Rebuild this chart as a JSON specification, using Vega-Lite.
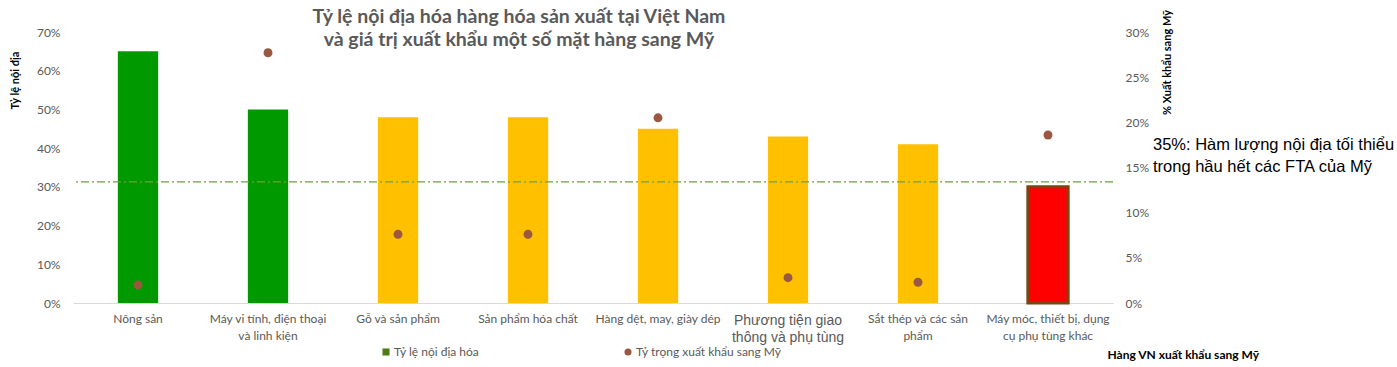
{
  "$schema": "https://vega.github.io/schema/vega-lite/v6.json",
  "width": 1040,
  "height": 271,
  "autosize": {"type": "none"},
  "padding": {"left": 73, "top": 32, "right": 284, "bottom": 64},
  "config": {
    "view": {"stroke": null},
    "font": "Lato",
    "axis": {"grid": false, "ticks": false, "labelOverlap": false, "labelColor": "#595959", "labelFont": "Lato", "labelFontSize": 12, "titleFont": "Lato", "titleFontSize": 11, "titleFontWeight": "bold", "titleColor": "#000000"}
  },
  "title": {
    "text": ["Tỷ lệ nội địa hóa hàng hóa sản xuất tại Việt Nam", "và giá trị xuất khẩu một số mặt hàng sang Mỹ"],
    "anchor": "middle",
    "dx": -74,
    "offset": -41,
    "fontSize": 19.5,
    "fontWeight": "bold",
    "color": "#595959",
    "font": "Lato",
    "lineHeight": 23
  },
  "datasets": {
    "hang": [
      {"mat_hang": "Nông sản", "noi_dia": 65, "xuat_khau_my": 2.0, "nhom": "cao"},
      {"mat_hang": "Máy vi tính, điện thoại|và linh kiện", "noi_dia": 50, "xuat_khau_my": 27.7, "nhom": "cao"},
      {"mat_hang": "Gỗ và sản phẩm", "noi_dia": 48, "xuat_khau_my": 7.6, "nhom": "trung bình"},
      {"mat_hang": "Sản phẩm hóa chất", "noi_dia": 48, "xuat_khau_my": 7.6, "nhom": "trung bình"},
      {"mat_hang": "Hàng dệt, may, giày dép", "noi_dia": 45, "xuat_khau_my": 20.5, "nhom": "trung bình"},
      {"mat_hang": "Phương tiện giao|thông và phụ tùng", "noi_dia": 43, "xuat_khau_my": 2.8, "nhom": "trung bình"},
      {"mat_hang": "Sắt thép và các sản|phẩm", "noi_dia": 41, "xuat_khau_my": 2.3, "nhom": "trung bình"},
      {"mat_hang": "Máy móc, thiết bị, dụng|cụ phụ tùng khác", "noi_dia": 30, "xuat_khau_my": 18.6, "nhom": "thấp"}
    ],
    "nguong": [
      {"muc": 31.3, "ghi_chu": ["35%: Hàm lượng nội địa tối thiểu", "trong hầu hết các FTA của Mỹ"], "vi_tri": 40.8}
    ]
  },
  "encoding": {
    "x": {
      "field": "mat_hang", "type": "nominal", "sort": null,
      "scale": {"paddingInner": 0.69, "paddingOuter": 0.345},
      "axis": {
        "labelAngle": 0,
        "labelExpr": "split(datum.label, '|')",
        "labelPadding": 10,
        "labelLineHeight": 17,
        "labelFontSize": {"condition": {"test": "indexof(datum.value, 'Phương tiện') == 0", "value": 14}, "value": 12},
        "labelFont": {"condition": {"test": "indexof(datum.value, 'Phương tiện') == 0", "value": "Liberation Sans"}, "value": "Lato"},
        "labelLimit": 200,
        "domainColor": "#D9D9D9",
        "title": "Hàng VN xuất khẩu sang Mỹ",
        "titleFontSize": 12,
        "titleX": 1034,
        "titleY": 51,
        "titleAlign": "left",
        "titleBaseline": "middle"
      }
    }
  },
  "layer": [
    {
      "layer": [
        {
          "data": {"name": "hang"},
          "mark": {"type": "bar"},
          "encoding": {
            "y": {
              "field": "noi_dia", "type": "quantitative",
              "scale": {"domain": [0, 70], "nice": false},
              "axis": {
                "orient": "left", "values": [0, 10, 20, 30, 40, 50, 60, 70],
                "labelExpr": "datum.value + '%'", "labelPadding": 13, "domain": false, "labelOverlap": false,
                "title": "Tỷ lệ nội địa", "titleAngle": -90, "titleX": -58, "titleY": 48,
                "titleAlign": "center", "titleBaseline": "middle"
              }
            },
            "fill": {
              "field": "nhom", "type": "nominal",
              "scale": {"domain": ["cao", "trung bình", "thấp"], "range": ["#009900", "#FFC000", "#FF0000"]},
              "legend": null
            },
            "stroke": {"condition": {"test": "datum.nhom == 'thấp'", "value": "#7B4512"}, "value": null},
            "strokeWidth": {"condition": {"test": "datum.nhom == 'thấp'", "value": 3}, "value": 0}
          }
        },
        {
          "data": {"name": "nguong"},
          "mark": {"type": "rule", "color": "#6FA040", "strokeWidth": 1.3, "strokeDash": [8, 3, 2, 3]},
          "encoding": {
            "y": {
              "field": "muc", "type": "quantitative",
              "axis": {
                "orient": "left", "values": [0, 10, 20, 30, 40, 50, 60, 70],
                "labelExpr": "datum.value + '%'", "labelPadding": 13, "domain": false, "labelOverlap": false,
                "title": "Tỷ lệ nội địa", "titleAngle": -90, "titleX": -58, "titleY": 48,
                "titleAlign": "center", "titleBaseline": "middle"
              }
            },
            "x": null
          }
        },
        {
          "data": {"name": "nguong"},
          "mark": {"type": "text", "align": "left", "baseline": "middle", "dx": 40, "font": "Liberation Sans", "fontSize": 16.5, "lineHeight": 22, "color": "#000000"},
          "encoding": {
            "y": {
              "field": "vi_tri", "type": "quantitative",
              "axis": {
                "orient": "left", "values": [0, 10, 20, 30, 40, 50, 60, 70],
                "labelExpr": "datum.value + '%'", "labelPadding": 13, "domain": false, "labelOverlap": false,
                "title": "Tỷ lệ nội địa", "titleAngle": -90, "titleX": -58, "titleY": 48,
                "titleAlign": "center", "titleBaseline": "middle"
              }
            },
            "x": {"value": "width"},
            "text": {"field": "ghi_chu"}
          }
        }
      ]
    },
    {
      "data": {"name": "hang"},
      "mark": {"type": "point", "filled": true, "size": 80, "opacity": 1},
      "encoding": {
        "y": {
          "field": "xuat_khau_my", "type": "quantitative",
          "scale": {"domain": [0, 30], "nice": false},
          "axis": {
            "orient": "right", "values": [0, 5, 10, 15, 20, 25, 30],
            "labelExpr": "datum.value + '%'", "labelPadding": 12, "domain": false,
            "title": "% Xuất khẩu sang Mỹ", "titleAngle": -90, "titleX": 54, "titleY": 30,
            "titleAlign": "center", "titleBaseline": "middle"
          }
        },
        "color": {
          "datum": "Tỷ trọng xuất khẩu sang Mỹ", "type": "nominal",
          "scale": {"domain": ["Tỷ lệ nội địa hóa", "Tỷ trọng xuất khẩu sang Mỹ"], "range": ["#4E7B15", "#9A5840"]},
          "legend": {
            "title": null, "orient": "none", "legendX": 307, "legendY": 314, "direction": "horizontal",
            "columns": 2, "columnPadding": 142, "padding": 0,
            "labelFont": "Lato", "labelFontSize": 12, "labelColor": "#595959", "labelOffset": 2,
            "symbolSize": 50, "symbolStrokeWidth": 0
          }
        },
        "shape": {
          "datum": "Tỷ trọng xuất khẩu sang Mỹ", "type": "nominal",
          "scale": {"domain": ["Tỷ lệ nội địa hóa", "Tỷ trọng xuất khẩu sang Mỹ"], "range": ["square", "circle"]},
          "legend": {
            "title": null, "orient": "none", "legendX": 307, "legendY": 314, "direction": "horizontal",
            "columns": 2, "columnPadding": 142, "padding": 0,
            "labelFont": "Lato", "labelFontSize": 12, "labelColor": "#595959", "labelOffset": 2,
            "symbolSize": 50, "symbolStrokeWidth": 0
          }
        }
      }
    }
  ],
  "resolve": {"scale": {"y": "independent"}}
}
